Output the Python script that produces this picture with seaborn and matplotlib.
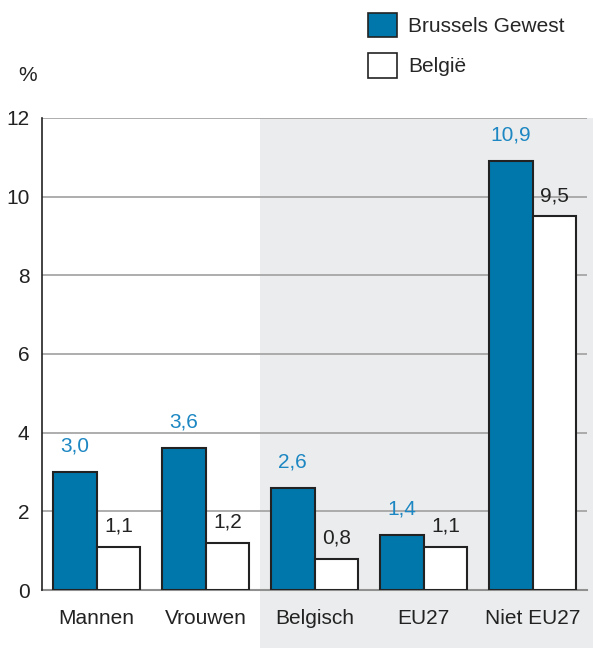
import pandas as pd
import seaborn as sns
import matplotlib.pyplot as plt
from matplotlib.patches import Rectangle, Patch
import matplotlib.transforms as mtransforms

categories = ["Mannen", "Vrouwen", "Belgisch", "EU27", "Niet EU27"]
brussels = [3.0, 3.6, 2.6, 1.4, 10.9]
belgie = [1.1, 1.2, 0.8, 1.1, 9.5]
series = ["Brussels Gewest", "België"]

df = pd.DataFrame({
    "cat": categories * 2,
    "value": brussels + belgie,
    "series": [series[0]] * 5 + [series[1]] * 5,
})

sns.set_style("white")
plt.rcParams['font.family'] = ['Liberation Sans', 'DejaVu Sans']

blue = "#0077ab"
label_blue = "#1c87c2"
fs = 15

fig = plt.figure(figsize=(5.93, 6.48), dpi=100)
ax = fig.add_axes([0.071, 0.0895, 0.919, 0.7285])

ax = sns.barplot(data=df, x="cat", y="value", hue="series", order=categories,
                 hue_order=series, palette=[blue, "white"], width=0.8,
                 saturation=1, edgecolor="#222222", linewidth=1.5,
                 legend=False, ax=ax, zorder=3)

# grey background behind the nationality groups
trans = mtransforms.blended_transform_factory(ax.transData, ax.transAxes)
ax.add_patch(Rectangle((1.5, -0.13), 3.2, 1.13, transform=trans,
                       facecolor="#ebeced", edgecolor="none", clip_on=False,
                       zorder=0))

ax.set_xlim(-0.5, 4.5)
ax.set_ylim(0, 12)
ax.set_yticks(range(0, 13, 2))
for y in range(2, 13, 2):
    ax.axhline(y, color="#a0a0a0", linewidth=1.2, zorder=1)
ax.set_facecolor("none")

ax.bar_label(ax.containers[0], labels=[f"{v:.1f}".replace(".", ",") for v in brussels],
             padding=12, color=label_blue, fontsize=fs)
ax.bar_label(ax.containers[1], labels=[f"{v:.1f}".replace(".", ",") for v in belgie],
             padding=8, color="#222222", fontsize=fs)

for s in ["top", "right"]:
    ax.spines[s].set_visible(False)
ax.spines["left"].set_color("#222222")
ax.spines["left"].set_linewidth(1.2)
ax.spines["bottom"].set_color("#909090")
ax.spines["bottom"].set_linewidth(1.5)
ax.spines["left"].set_zorder(4)

ax.set_xlabel("")
ax.set_ylabel("")
ax.tick_params(axis="both", labelsize=fs, colors="#222222", length=0)
ax.tick_params(axis="x", pad=14)
ax.tick_params(axis="y", pad=9)

fig.text(0.03, 0.875, "%", fontsize=fs, color="#222222")

handles = [Patch(facecolor=blue, edgecolor="#222222", linewidth=1.2, label=series[0]),
           Patch(facecolor="white", edgecolor="#222222", linewidth=1.2, label=series[1])]
fig.legend(handles=handles, loc="upper left", bbox_to_anchor=(0.6, 1.0),
           frameon=False, fontsize=fs, handlelength=1.4, handleheight=1.45,
           labelspacing=0.75, handletextpad=0.5, borderaxespad=0.2)

plt.savefig("out.png", dpi=100)
plt.close()
